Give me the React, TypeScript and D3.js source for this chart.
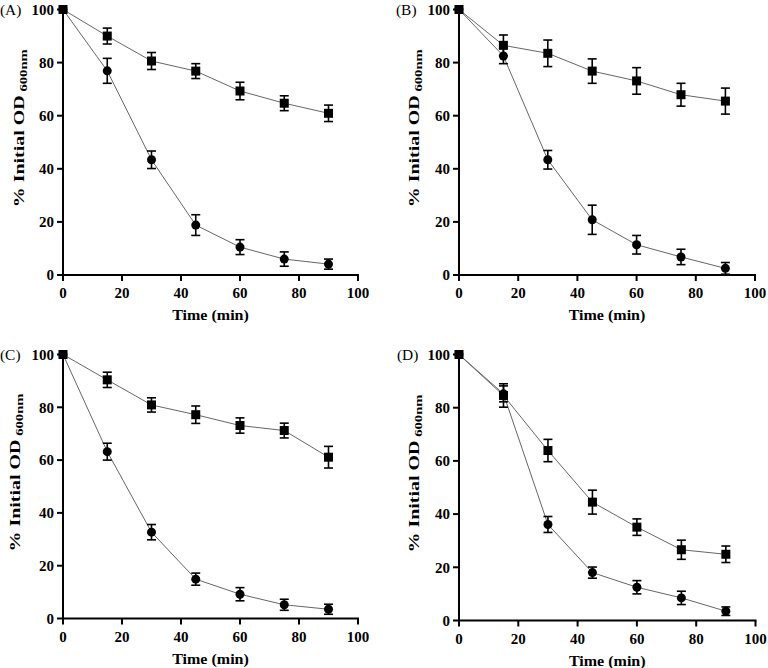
import React from "react";
import * as d3 from "d3";

const time = [0, 15, 30, 45, 60, 75, 90];
const xTicks = [0, 20, 40, 60, 80, 100];
const yTicks = [0, 20, 40, 60, 80, 100];
const panelLabels = ["(A)", "(B)", "(C)", "(D)"];

const aSquare = [100, 90.0, 80.6, 76.8, 69.3, 64.7, 60.9];
const aSquareErr = [0, 3.0, 3.2, 2.8, 3.3, 2.8, 3.1];
const aCircle = [100, 76.9, 43.4, 18.8, 10.5, 6.0, 4.1];
const aCircleErr = [0, 4.7, 3.3, 3.9, 2.8, 2.7, 1.9];

const bSquare = [100, 86.5, 83.5, 76.8, 73.1, 67.9, 65.5];
const bSquareErr = [0, 3.9, 5.0, 4.6, 5.0, 4.3, 4.9];
const bCircle = [100, 82.5, 43.4, 20.8, 11.4, 6.8, 2.5];
const bCircleErr = [0, 2.9, 3.5, 5.5, 3.5, 2.9, 2.2];

const cSquare = [100, 90.4, 80.9, 77.2, 73.1, 71.2, 61.1];
const cSquareErr = [0, 2.9, 2.7, 3.3, 2.9, 2.8, 4.1];
const cCircle = [100, 63.2, 32.7, 14.9, 9.2, 5.2, 3.5];
const cCircleErr = [0, 3.2, 2.9, 2.3, 2.5, 2.1, 1.9];

const dSquare = [100, 84.6, 63.9, 44.5, 35.1, 26.6, 24.9];
const dSquareErr = [0, 4.4, 4.2, 4.5, 3.1, 3.6, 3.1];
const dCircle = [100, 85.2, 36.1, 18.0, 12.5, 8.5, 3.5];
const dCircleErr = [0, 3.0, 3.0, 2.1, 2.5, 2.5, 1.6];

const panelData = [
  { sq: aSquare, sqE: aSquareErr, ci: aCircle, ciE: aCircleErr },
  { sq: bSquare, sqE: bSquareErr, ci: bCircle, ciE: bCircleErr },
  { sq: cSquare, sqE: cSquareErr, ci: cCircle, ciE: cCircleErr },
  { sq: dSquare, sqE: dSquareErr, ci: dCircle, ciE: dCircleErr },
];

// layout (styles)
const layout = [
  { x0: 63, x1: 358, y0: 275, y1: 9.5, lx: 24, lbx: 0 },
  { x0: 459, x1: 755, y0: 275, y1: 9.5, lx: 419, lbx: 396 },
  { x0: 63, x1: 358, y0: 618.5, y1: 354.5, lx: 20, lbx: 0 },
  { x0: 459, x1: 755.5, y0: 620.5, y1: 354.5, lx: 419, lbx: 397 },
];

const FONT = "'Liberation Serif', 'Times New Roman', serif";

function Panel({ idx }: { idx: number }) {
  const L = layout[idx];
  const D = panelData[idx];
  const x = d3.scaleLinear().domain([0, 100]).range([L.x0, L.x1]);
  const y = d3.scaleLinear().domain([0, 100]).range([L.y0, L.y1]);
  const line = d3
    .line<[number, number]>()
    .x((d) => x(d[0]))
    .y((d) => y(d[1]));
  const sqPts = time.map((t, i) => [t, D.sq[i]] as [number, number]);
  const ciPts = time.map((t, i) => [t, D.ci[i]] as [number, number]);
  const cap = 4.5;
  const errBars = (vals: number[], errs: number[], key: string) =>
    time.map((t, i) =>
      errs[i] > 0 ? (
        <g key={key + i} stroke="#000" strokeWidth={1.6}>
          <line x1={x(t)} x2={x(t)} y1={y(vals[i] + errs[i])} y2={y(vals[i] - errs[i])} />
          <line x1={x(t) - cap} x2={x(t) + cap} y1={y(vals[i] + errs[i])} y2={y(vals[i] + errs[i])} />
          <line x1={x(t) - cap} x2={x(t) + cap} y1={y(vals[i] - errs[i])} y2={y(vals[i] - errs[i])} />
        </g>
      ) : null
    );
  const midX = (L.x0 + L.x1) / 2;
  const midY = (L.y0 + L.y1) / 2;
  return (
    <g>
      <path d={line(ciPts) || ""} fill="none" stroke="#666" strokeWidth={1} />
      <path d={line(sqPts) || ""} fill="none" stroke="#666" strokeWidth={1} />
      {errBars(D.ci, D.ciE, "ce")}
      {errBars(D.sq, D.sqE, "se")}
      {ciPts.map((p, i) => (
        <circle key={"c" + i} cx={x(p[0])} cy={y(p[1])} r={4.5} fill="#000" />
      ))}
      {sqPts.map((p, i) => (
        <rect key={"s" + i} x={x(p[0]) - 4.5} y={y(p[1]) - 4.5} width={9} height={9} fill="#000" />
      ))}
      {/* axes */}
      <line x1={L.x0} x2={L.x0} y1={L.y0 + 1} y2={L.y1 - 1} stroke="#000" strokeWidth={2} />
      <line x1={L.x0 - 1} x2={L.x1 + 1} y1={L.y0} y2={L.y0} stroke="#000" strokeWidth={2} />
      {yTicks.map((t) => (
        <g key={"yt" + t}>
          <line x1={L.x0 - 6} x2={L.x0} y1={y(t)} y2={y(t)} stroke="#000" strokeWidth={2} />
          <text
            x={L.x0 - 9}
            y={y(t)}
            textAnchor="end"
            dy="0.35em"
            fontFamily={FONT}
            fontWeight="bold"
            fontSize={15}
          >
            {t}
          </text>
        </g>
      ))}
      {xTicks.map((t) => (
        <g key={"xt" + t}>
          <line x1={x(t)} x2={x(t)} y1={L.y0} y2={L.y0 + 6} stroke="#000" strokeWidth={2} />
          <text
            x={x(t)}
            y={L.y0 + 23}
            textAnchor="middle"
            fontFamily={FONT}
            fontWeight="bold"
            fontSize={15}
          >
            {t}
          </text>
        </g>
      ))}
      <text
        transform={`translate(${midX},${L.y0 + 45}) scale(1.07,1)`}
        textAnchor="middle"
        fontFamily={FONT}
        fontWeight="bold"
        fontSize={15}
      >
        Time (min)
      </text>
      <text
        transform={`translate(${L.lx},${midY - 14}) rotate(-90)`}
        textAnchor="middle"
        fontFamily={FONT}
        fontWeight="bold"
        fontSize={15}
        textLength={158}
        lengthAdjust="spacingAndGlyphs"
      >
        % Initial OD
        <tspan fontSize={11} dy={3}>
          {" 600nm"}
        </tspan>
      </text>
      <text
        transform={`translate(${L.lbx},${L.y1 + 5}) scale(1.1,1)`}
        fontFamily={FONT}
        fontSize={14}
      >
        {panelLabels[idx]}
      </text>
    </g>
  );
}

export default function App() {
  return (
    <svg
      width={768}
      height={668}
      style={{ position: "absolute", left: 0, top: 0, background: "#fff" }}
    >
      <rect width={768} height={668} fill="#fff" />
      {[0, 1, 2, 3].map((i) => (
        <Panel key={i} idx={i} />
      ))}
    </svg>
  );
}
